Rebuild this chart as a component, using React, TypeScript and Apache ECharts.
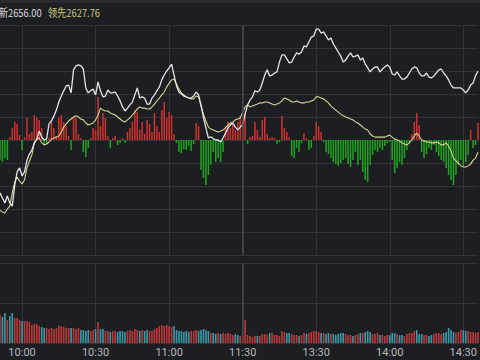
import { useEffect, useRef } from "react";
import * as echarts from "echarts";

// minute index (9:30 = 0, 11:30 = 120, 13:00 merged, 15:00 = 240) of the first visible minute
const startMinute = 21;
const tickLabels = ["10:00", "10:30", "11:00", "11:30", "13:30", "14:00", "14:30"];

// 最新 (index price)
const price = [
  2613.6, 2611.8, 2610.1, 2612.5, 2610.1, 2609.0, 2616.3, 2620.9, 2622.3, 2619.5,
  2620.9, 2625.0, 2627.1, 2628.5, 2631.0, 2632.3, 2635.1, 2633.0, 2632.0, 2632.3,
  2637.6, 2638.6, 2640.4, 2642.4, 2645.2, 2647.3, 2649.1, 2650.8, 2651.1, 2648.4,
  2656.4, 2657.8, 2658.1, 2657.8, 2656.7, 2650.1, 2648.4, 2649.1, 2649.7, 2647.7,
  2652.2, 2649.1, 2647.0, 2647.3, 2649.4, 2648.4, 2648.4, 2648.7, 2647.3, 2645.6,
  2643.5, 2642.1, 2643.1, 2644.2, 2645.2, 2647.7, 2650.1, 2646.6, 2647.0, 2646.6,
  2644.5, 2644.5, 2646.6, 2647.7, 2649.1, 2650.4, 2652.9, 2654.6, 2656.0, 2657.1,
  2658.4, 2654.6, 2650.8, 2648.7, 2648.0, 2647.3, 2647.0, 2646.6, 2646.6, 2647.3,
  2648.7, 2647.7, 2644.2, 2639.7, 2636.2, 2632.7, 2633.1, 2632.4, 2632.0, 2632.0,
  2631.3, 2632.7, 2634.4, 2636.2, 2637.2, 2637.9, 2636.5, 2635.5, 2636.5, 2637.2,
  2641.0, 2644.2, 2645.9, 2647.0, 2649.1, 2648.7, 2649.4, 2651.8, 2654.6, 2656.4,
  2654.3, 2654.6, 2655.3, 2655.7, 2659.1, 2661.6, 2661.6, 2660.2, 2658.8, 2659.1,
  2660.9, 2662.3, 2661.9, 2662.6, 2664.7, 2664.4, 2666.1, 2667.8, 2668.2, 2670.6,
  2670.6, 2669.2, 2669.6, 2668.2, 2666.8, 2667.5, 2665.4, 2664.0, 2662.6, 2661.2,
  2659.1, 2659.8, 2661.2, 2662.3, 2660.9, 2661.2, 2661.6, 2659.8, 2660.5, 2658.4,
  2657.1, 2655.7, 2656.7, 2657.4, 2657.4, 2655.7, 2656.7, 2657.4, 2658.1, 2657.4,
  2655.0, 2654.6, 2655.7, 2654.3, 2653.2, 2653.2, 2653.9, 2655.3, 2656.7, 2657.4,
  2657.1, 2655.3, 2654.3, 2654.3, 2655.3, 2653.9, 2653.6, 2654.3, 2655.3, 2656.4,
  2656.7, 2655.3, 2654.3, 2652.9, 2651.1, 2650.1, 2650.1, 2650.1, 2650.1, 2649.4,
  2648.4, 2649.4, 2651.1, 2651.8, 2654.3, 2656.0,
];

// 领先 (leading index)
const lead = [
  2607.6, 2606.9, 2606.6, 2608.0, 2609.0, 2613.6, 2617.4, 2619.1, 2617.7, 2616.7,
  2618.1, 2622.3, 2624.7, 2626.8, 2631.0, 2632.3, 2632.7, 2631.0, 2630.3, 2630.6,
  2631.3, 2632.3, 2632.7, 2633.0, 2633.4, 2634.8, 2636.5, 2637.6, 2638.6, 2639.3,
  2640.0, 2640.4, 2640.0, 2639.3, 2639.0, 2637.9, 2637.2, 2637.6, 2637.9, 2639.0,
  2640.7, 2643.1, 2642.4, 2642.1, 2642.1, 2641.4, 2641.0, 2640.7, 2640.0, 2639.3,
  2638.6, 2638.3, 2639.0, 2639.7, 2640.7, 2641.7, 2642.8, 2643.5, 2643.1, 2643.1,
  2642.8, 2642.8, 2643.5, 2644.5, 2645.6, 2646.6, 2647.7, 2648.7, 2650.4, 2651.8,
  2652.9, 2653.2, 2651.5, 2649.7, 2648.4, 2647.7, 2647.0, 2646.6, 2646.3, 2646.3,
  2647.3, 2647.0, 2643.8, 2641.0, 2638.6, 2636.5, 2635.8, 2635.5, 2635.1, 2634.8,
  2635.1, 2635.5, 2636.2, 2637.2, 2637.9, 2638.3, 2639.0, 2639.3, 2639.7, 2641.7,
  2643.5, 2644.2, 2643.5, 2643.8, 2644.2, 2644.5, 2644.9, 2644.9, 2645.2, 2645.2,
  2644.9, 2644.5, 2644.2, 2644.5, 2644.9, 2645.6, 2646.6, 2646.3, 2645.9, 2645.2,
  2645.2, 2645.6, 2645.2, 2644.9, 2644.9, 2645.2, 2645.2, 2645.6, 2645.9, 2647.0,
  2647.0, 2646.6, 2646.3, 2645.6, 2644.9, 2643.8, 2643.1, 2642.4, 2641.7, 2641.0,
  2640.4, 2640.0, 2639.7, 2639.3, 2639.0, 2638.3, 2637.9, 2637.2, 2636.5, 2635.8,
  2635.5, 2634.1, 2633.4, 2633.0, 2633.0, 2633.0, 2633.0, 2633.0, 2633.4, 2633.7,
  2633.0, 2632.3, 2632.0, 2631.7, 2631.0, 2630.6, 2630.3, 2631.0, 2632.0, 2633.4,
  2634.4, 2633.4, 2632.0, 2631.7, 2631.3, 2631.3, 2631.0, 2631.0, 2631.3, 2631.0,
  2630.3, 2630.3, 2631.0, 2629.9, 2628.2, 2625.7, 2624.7, 2624.0, 2623.0, 2622.6,
  2622.6, 2623.0, 2623.6, 2625.0, 2625.7, 2627.76,
];

// red / green strength bars
const strength = [
  -20, -22, -18, -20, 3, 12, 18, 16, 5, -10,
  3, 22, 6, 8, 25, 22, 20, 12, -5, -4,
  2, 18, 12, 4, 22, 25, 18, 14, 4, -10,
  23, 22, 6, 2, -12, -17, -8, 2, 12, 10,
  43, 14, 27, 22, 4, -8, 2, 4, -5, -3,
  2, -3, 8, 12, 18, 30, 28, 10, 18, 6,
  20, 16, 8, 27, 14, 8, 30, 38, 22, 28,
  25, 6, -3, -12, -13, -9, -10, -6, -11, -4,
  17, 14, -30, -38, -45, -35, -25, -12, -22, -18,
  -22, -12, 14, 18, 12, 16, 10, 18, 24, 22,
  27, -4, 3, 4, 18, 10, 3, 20, 23, 6,
  2, 3, 2, -4, -2, 24, 12, 8, 3, -16,
  -18, -8, -12, -3, 7, 2, -10, -8, 4, 18,
  14, 8, -2, -12, -14, -18, -22, -24, -26, -23,
  -20, -18, -24, -27, -20, -12, -25, -20, -32, -40,
  -42, -25, -15, -10, -12, -8, -10, -6, -3, -2,
  -20, -33, -28, -22, -25, -18, -10, -3, 6, 18,
  27, 15, -12, -18, -14, -8, -10, -5, -12, -16,
  -20, -22, -28, -35, -40, -45, -35, -25, -20, -26,
  -22, -15, 10, -8, -5, 17,
];

// volume
const volume = [
  28, 26, 30, 23, 27, 30, 25, 25, 23, 22,
  22, 22, 21, 18, 19, 19, 17, 16, 15, 15,
  14, 15, 14, 15, 17, 17, 16, 15, 15, 15,
  15, 14, 15, 13, 13, 12, 13, 12, 13, 14,
  21, 14, 14, 12, 12, 11, 12, 12, 11, 12,
  12, 11, 12, 13, 12, 14, 13, 12, 13, 12,
  13, 12, 12, 14, 15, 17, 18, 17, 18, 17,
  16, 17, 13, 12, 12, 11, 12, 11, 12, 12,
  13, 12, 13, 14, 13, 12, 10, 10, 9, 10,
  9, 10, 9, 10, 9, 8, 9, 8, 7, 7,
  23, 8, 7, 6, 7, 7, 7, 9, 9, 8,
  10, 10, 8, 8, 7, 12, 11, 10, 10, 9,
  8, 8, 7, 8, 10, 9, 10, 11, 12, 12,
  11, 10, 10, 9, 10, 9, 9, 8, 9, 10,
  10, 9, 8, 8, 7, 8, 9, 10, 10, 11,
  12, 11, 9, 9, 10, 8, 8, 7, 8, 8,
  10, 10, 9, 8, 8, 7, 9, 10, 10, 12,
  13, 9, 9, 8, 8, 7, 8, 9, 10, 10,
  9, 10, 11, 15, 13, 11, 10, 11, 13, 13,
  12, 12, 11, 11, 10, 11,
];

function minuteLabel(k: number): string {
  const t = k <= 120 ? 9 * 60 + 30 + k : 13 * 60 + (k - 120);
  const h = Math.floor(t / 60);
  const m = t % 60;
  return `${h}:${m < 10 ? "0" + m : m}`;
}

const times = price.map((_, i) => minuteLabel(startMinute + i));

const BG = "#1d1e22";
const GRID = "#323338";
const RED = "#d2322e";
const GREEN = "#1fa51f";
const VOL_RED = "#bd3a3a";
const VOL_TEAL = "#3a9cab";

export default function App() {
  const ref = useRef<HTMLDivElement>(null);

  useEffect(() => {
    if (!ref.current) return;
    const chart = echarts.init(ref.current, undefined, { renderer: "svg" });
    const showTick = (_i: number, v: string) => tickLabels.includes(v);

    const volData = volume.map((v, i) => ({
      value: v,
      itemStyle: { color: i === 0 || price[i] >= price[i - 1] ? VOL_RED : VOL_TEAL },
    }));

    const lastPrice = price[price.length - 1];
    const lastLead = lead[lead.length - 1];

    chart.setOption({
      animation: false,
      backgroundColor: BG,
      grid: [
        { left: -1, right: 2, top: 25, height: 230 },
        { left: -1, right: 2, top: 263, height: 80 },
      ],
      xAxis: [
        {
          type: "category",
          gridIndex: 0,
          data: times,
          boundaryGap: false,
          axisLine: { show: false },
          axisTick: { show: false },
          axisLabel: { show: false },
          splitLine: { show: true, interval: showTick, lineStyle: { color: GRID, width: 1 } },
        },
        {
          type: "category",
          gridIndex: 1,
          data: times,
          boundaryGap: false,
          axisLine: { show: false },
          axisTick: { show: false },
          axisLabel: {
            show: true,
            interval: showTick,
            color: "#b8b8bc",
            fontSize: 11,
            fontFamily: "Roboto",
            margin: 4,
          },
          splitLine: { show: true, interval: showTick, lineStyle: { color: GRID, width: 1 } },
        },
      ],
      yAxis: [
        {
          type: "value",
          gridIndex: 0,
          min: 2592,
          max: 2672,
          interval: 8,
          axisLine: { show: false },
          axisTick: { show: false },
          axisLabel: { show: false },
          splitLine: { show: true, lineStyle: { color: GRID, width: 1 } },
        },
        {
          type: "value",
          gridIndex: 0,
          min: -115,
          max: 115,
          show: false,
          splitLine: { show: false },
        },
        {
          type: "value",
          gridIndex: 1,
          min: 0,
          max: 80,
          interval: 40,
          axisLine: { show: false },
          axisTick: { show: false },
          axisLabel: { show: false },
          splitLine: { show: true, lineStyle: { color: GRID, width: 1 } },
        },
      ],
      series: [
        {
          type: "bar",
          xAxisIndex: 0,
          yAxisIndex: 1,
          data: strength,
          barWidth: 1.5,
          itemStyle: {
            color: (p: any) => (p.value >= 0 ? RED : GREEN),
          },
          markLine: {
            silent: true,
            symbol: "none",
            label: { show: false },
            lineStyle: { color: "#48494e", type: "solid", width: 1.5 },
            data: [{ xAxis: "11:30" }],
          },
        },
        {
          type: "line",
          xAxisIndex: 0,
          yAxisIndex: 0,
          data: lead,
          symbol: "none",
          lineStyle: { color: "#d8d592", width: 1.1 },
        },
        {
          type: "line",
          xAxisIndex: 0,
          yAxisIndex: 0,
          data: price,
          symbol: "none",
          lineStyle: { color: "#e4e4ec", width: 1.3 },
        },
        {
          type: "bar",
          xAxisIndex: 1,
          yAxisIndex: 2,
          data: volData,
          barWidth: 1.6,
          markLine: {
            silent: true,
            symbol: "none",
            label: { show: false },
            lineStyle: { color: "#48494e", type: "solid", width: 1.5 },
            data: [{ xAxis: "11:30" }],
          },
        },
      ],
      graphic: [
        {
          type: "rect",
          shape: { x: 0, y: 0, width: 480, height: 3 },
          style: { fill: "#2a2b30" },
        },
        {
          type: "text",
          x: -10.7,
          y: 12,
          scaleX: 0.85,
          style: {
            text: "最新" + lastPrice.toFixed(2),
            fill: "#dadade",
            font: '11px "Noto Sans CJK SC"',
            textAlign: "left",
            verticalAlign: "middle",
          },
        },
        {
          type: "text",
          x: 47.7,
          y: 12,
          scaleX: 0.85,
          style: {
            text: "领先" + lastLead.toFixed(2),
            fill: "#c9c67c",
            font: '11px "Noto Sans CJK SC"',
            textAlign: "left",
            verticalAlign: "middle",
          },
        },
      ],
    });

    return () => chart.dispose();
  }, []);

  return (
    <div
      ref={ref}
      style={{ position: "fixed", left: 0, top: 0, width: 480, height: 360, background: BG }}
    />
  );
}
